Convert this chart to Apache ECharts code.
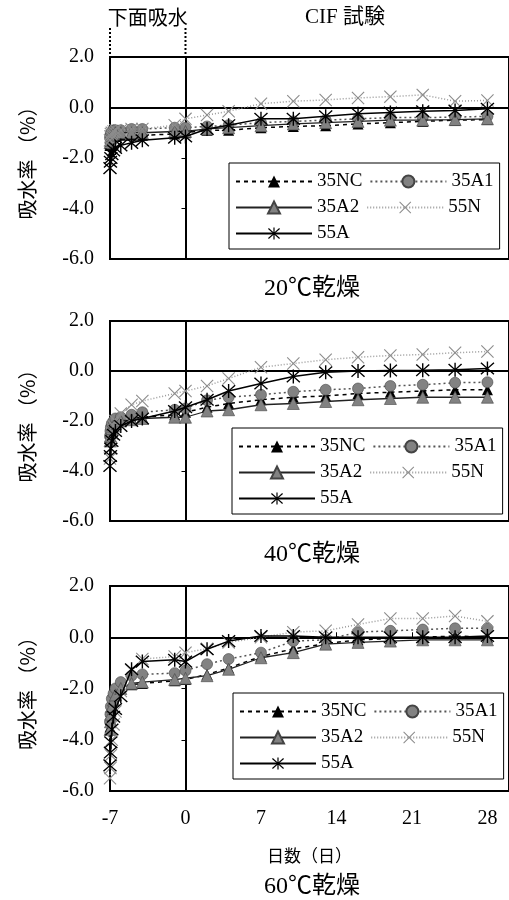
<!DOCTYPE html>
<html>
<head>
<meta charset="utf-8">
<script src="https://cdn.jsdelivr.net/npm/echarts@6/dist/echarts.min.js"></script>
<style>
html, body { margin: 0; padding: 0; background: #fff; }
#chart { width: 509px; height: 900px; }
</style>
</head>
<body>
<div id="chart"></div>
<script>
// 日数: 下面吸水 (-7~0) と CIF試験 (0~28)
var days = [-7, -6.96, -6.92, -6.83, -6.67, -6.5, -6, -5, -4, -1, 0,
  2, 4, 7, 10, 13, 16, 19, 22, 25, 28];
var seriesNames = ['35NC', '35A1', '35A2', '55N', '55A'];
var panelTitles = ['20℃乾燥', '40℃乾燥', '60℃乾燥'];
var yTicks = [-6, -4, -2, 0, 2];
var xTicks = [-7, 0, 7, 14, 21, 28];

// 20℃乾燥
var d20_35NC = [-1.5, -1.35, -1.25, -1.2, -1.15, -1.15, -1.1, -1.1, -1.1, -1.05, -1.0, -0.9, -0.9, -0.8, -0.75, -0.72, -0.65, -0.6, -0.55, -0.5, -0.48];
var d20_35A1 = [-1.2, -1.1, -1.0, -0.95, -0.9, -0.9, -0.9, -0.85, -0.85, -0.8, -0.8, -0.75, -0.7, -0.6, -0.55, -0.5, -0.45, -0.4, -0.4, -0.38, -0.35];
var d20_35A2 = [-1.4, -1.3, -1.2, -1.1, -1.05, -1.0, -1.0, -1.0, -1.0, -0.95, -0.95, -0.85, -0.8, -0.72, -0.65, -0.6, -0.55, -0.5, -0.5, -0.48, -0.45];
var d20_55N = [-1.3, -1.15, -1.05, -1.0, -0.95, -0.9, -0.9, -0.85, -0.85, -0.7, -0.45, -0.3, -0.15, 0.15, 0.25, 0.3, 0.38, 0.43, 0.5, 0.25, 0.28];
var d20_55A = [-2.4, -2.15, -2.0, -1.85, -1.7, -1.6, -1.5, -1.4, -1.3, -1.2, -1.15, -0.85, -0.7, -0.45, -0.45, -0.35, -0.25, -0.2, -0.15, -0.12, -0.05];

// 40℃乾燥
var d40_35NC = [-2.7, -2.5, -2.3, -2.2, -2.1, -2.0, -1.95, -1.9, -1.85, -1.75, -1.65, -1.45, -1.3, -1.15, -1.05, -1.0, -0.9, -0.85, -0.8, -0.75, -0.75];
var d40_35A1 = [-2.6, -2.4, -2.25, -2.1, -2.0, -1.9, -1.85, -1.75, -1.65, -1.55, -1.5, -1.17, -1.05, -0.95, -0.83, -0.75, -0.7, -0.6, -0.55, -0.47, -0.45];
var d40_35A2 = [-2.8, -2.6, -2.45, -2.3, -2.2, -2.1, -2.0, -1.95, -1.9, -1.85, -1.85, -1.6, -1.55, -1.35, -1.3, -1.22, -1.15, -1.1, -1.05, -1.05, -1.05];
var d40_55N = [-3.5, -3.1, -2.8, -2.5, -2.2, -2.0, -1.7, -1.35, -1.2, -0.9, -0.8, -0.6, -0.3, 0.15, 0.3, 0.45, 0.55, 0.62, 0.66, 0.73, 0.78];
var d40_55A = [-3.8, -3.4, -3.1, -2.8, -2.55, -2.4, -2.2, -2.0, -1.9, -1.6, -1.45, -1.15, -0.8, -0.5, -0.22, -0.05, 0.0, 0.02, 0.03, 0.05, 0.1];

// 60℃乾燥
var d60_35NC = [-3.5, -3.2, -2.9, -2.6, -2.4, -2.2, -1.95, -1.85, -1.8, -1.7, -1.65, -1.45, -1.2, -0.75, -0.45, -0.25, -0.1, -0.05, 0.0, 0.05, 0.0];
var d60_35A1 = [-3.3, -3.0, -2.7, -2.4, -2.2, -2.0, -1.75, -1.5, -1.45, -1.4, -1.3, -1.05, -0.85, -0.6, -0.15, -0.1, 0.2, 0.25, 0.3, 0.35, 0.35];
var d60_35A2 = [-3.6, -3.3, -3.0, -2.7, -2.45, -2.25, -2.0, -1.8, -1.75, -1.65, -1.6, -1.5, -1.25, -0.8, -0.6, -0.27, -0.2, -0.15, -0.1, -0.1, -0.1];
var d60_55N = [-5.5, -5.1, -4.6, -4.0, -3.4, -2.9, -2.1, -1.3, -0.85, -0.75, -0.6, -0.45, -0.2, 0.0, 0.2, 0.25, 0.5, 0.73, 0.73, 0.83, 0.62];
var d60_55A = [-5.0, -4.5, -4.1, -3.6, -3.1, -2.8, -2.3, -1.25, -0.95, -0.88, -0.95, -0.47, -0.15, 0.05, 0.05, 0.0, 0.0, 0.0, 0.0, 0.0, 0.05];

var panels = [
  [d20_35NC, d20_35A1, d20_35A2, d20_55N, d20_55A],
  [d40_35NC, d40_35A1, d40_35A2, d40_55N, d40_55A],
  [d60_35NC, d60_35A1, d60_35A2, d60_55N, d60_55A]
];

var FONT = "'Liberation Serif', 'Noto Sans CJK JP', serif";
var CJK = "'Noto Sans CJK JP', sans-serif";

// マーカー形状
var xPath = 'path://M0,6 L6,0 L50,44 L94,0 L100,6 L56,50 L100,94 L94,100 L50,56 L6,100 L0,94 L44,50 Z';
var starPath = 'path://M45,0 L55,0 L55,100 L45,100 Z M0,12 L7,5 L50,44 L93,5 L100,12 L57,50 L100,88 L93,95 L50,56 L7,95 L0,88 L43,50 Z';

var styles = {
  '35NC': { symbol: 'triangle', size: 11, item: { color: '#000' }, line: { color: '#000', width: 1.5, type: [4, 4] } },
  '35A1': { symbol: 'circle', size: 11, item: { color: '#828282', borderColor: '#444', borderWidth: 0.6 }, line: { color: '#555', width: 1.5, type: [2, 3] } },
  '35A2': { symbol: 'triangle', size: 12, item: { color: '#828282', borderColor: '#444', borderWidth: 0.6 }, line: { color: '#222', width: 1.3, type: 'solid' } },
  '55N': { symbol: xPath, size: 13, item: { color: '#8c8c8c' }, line: { color: '#9a9a9a', width: 1.5, type: [1, 2] } },
  '55A': { symbol: starPath, size: 14, item: { color: '#000' }, line: { color: '#000', width: 1.5, type: 'solid' } }
};

var gridTops = [57, 321, 586];
var gridHeights = [202, 200, 205];
var legendPos = [[229, 163], [232, 428], [233, 693]];

var grids = [], xAxes = [], yAxes = [], legends = [], series = [];

for (var p = 0; p < 3; p++) {
  grids.push({
    left: 110, right: -4, top: gridTops[p], height: gridHeights[p],
    show: true, borderColor: '#000', borderWidth: 2, backgroundColor: 'transparent'
  });
  xAxes.push({
    type: 'value', gridIndex: p, min: xTicks[0], max: 30, interval: 7,
    axisLine: { lineStyle: { color: '#000', width: 2 } },
    axisTick: { show: p === 2, inside: true, length: 5, lineStyle: { color: '#000', width: 1 } },
    axisLabel: { show: p === 2, showMaxLabel: false, margin: 18, color: '#000', fontFamily: FONT, fontSize: 20 },
    splitLine: { show: false },
    name: p === 2 ? '日数（日）' : '', nameLocation: 'middle', nameGap: 56,
    nameTextStyle: { fontFamily: CJK, fontSize: 17, color: '#000' }
  });
  yAxes.push({
    type: 'value', gridIndex: p, min: yTicks[0], max: yTicks[yTicks.length - 1], interval: 2,
    axisLine: { lineStyle: { color: '#000', width: 2 } },
    axisTick: { show: true, length: 4, lineStyle: { color: '#000', width: 1 } },
    axisLabel: { margin: 16, color: '#000', fontFamily: FONT, fontSize: 20, formatter: function (v) { return v.toFixed(1); } },
    splitLine: { show: false },
    name: '吸水率 （%）', nameLocation: 'middle', nameGap: 73,
    nameTextStyle: { fontFamily: CJK, fontSize: 20, color: '#000' }
  });
  legends.push({
    left: legendPos[p][0], top: legendPos[p][1], width: 270,
    orient: 'horizontal', itemWidth: 76, itemHeight: 15, itemGap: 7,
    padding: [9, 6, 6, 6], borderColor: '#000', borderWidth: 1, backgroundColor: '#fff',
    selectedMode: false,
    textStyle: { fontFamily: FONT, fontSize: 19, color: '#000' },
    data: seriesNames
  });
  for (var s = 0; s < seriesNames.length; s++) {
    var name = seriesNames[s];
    var st = styles[name];
    var vals = panels[p][s];
    var pts = days.map(function (d, i) { return [d, vals[i]]; });
    var ser = {
      name: name, type: 'line', xAxisIndex: p, yAxisIndex: p,
      data: pts, symbol: st.symbol, symbolSize: st.size,
      itemStyle: st.item, lineStyle: st.line, z: 3 + s
    };
    if (name === '35NC') {
      // 0.0 の基準線 (破線)
      ser.markLine = {
        silent: true, symbol: 'none', label: { show: false },
        lineStyle: { color: '#000', width: 2, type: [8, 4] },
        data: [{ yAxis: 0 }]
      };
    }
    series.push(ser);
  }
}

var chart = echarts.init(document.getElementById('chart'), null, { renderer: 'canvas' });
chart.setOption({
  animation: false,
  backgroundColor: '#fff',
  grid: grids,
  xAxis: xAxes,
  yAxis: yAxes,
  legend: legends,
  series: series
});

// 注記: 区間見出し・点線・境界線・パネル見出し
var xStart = chart.convertToPixel({ xAxisIndex: 0 }, days[0]);
var xZero = chart.convertToPixel({ xAxisIndex: 0 }, 0);
var titleY = [289, 555, 887];
var graphics = [
  { type: 'text', x: (xStart + xZero) / 2, y: 17, style: { text: '下面吸水', font: '20px ' + CJK, fill: '#000', textAlign: 'center', textVerticalAlign: 'middle' } },
  { type: 'text', x: 345, y: 17, style: { text: 'CIF 試験', font: '21px ' + FONT, fill: '#000', textAlign: 'center', textVerticalAlign: 'middle' } },
  { type: 'line', shape: { x1: xStart, y1: 28, x2: xStart, y2: 55 }, style: { stroke: '#000', lineWidth: 2, lineDash: [2, 2] } },
  { type: 'line', shape: { x1: xZero, y1: 28, x2: xZero, y2: 55 }, style: { stroke: '#000', lineWidth: 2, lineDash: [2, 2] } }
];
for (var g = 0; g < 3; g++) {
  // 下面吸水 / CIF試験 の境界 (x = 0)
  var top = chart.convertToPixel({ gridIndex: g }, [0, yTicks[yTicks.length - 1]]);
  var bot = chart.convertToPixel({ gridIndex: g }, [0, yTicks[0]]);
  graphics.push({ type: 'line', z: 100, shape: { x1: top[0], y1: top[1], x2: bot[0], y2: bot[1] }, style: { stroke: '#000', lineWidth: 2 } });
  graphics.push({ type: 'text', x: 312, y: titleY[g], style: { text: panelTitles[g], font: '24px ' + FONT, fill: '#000', textAlign: 'center', textVerticalAlign: 'middle' } });
}
chart.setOption({ graphic: graphics });
</script>
</body>
</html>
